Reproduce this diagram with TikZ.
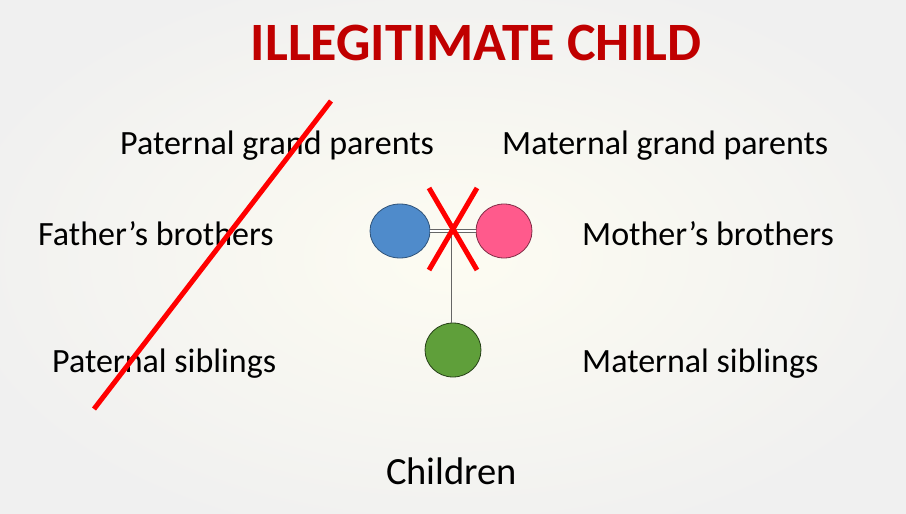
\documentclass[tikz,border=0pt]{standalone}
\usepackage{fontspec}
\setmainfont{Carlito}
\usetikzlibrary{shapes.geometric}
\definecolor{titlered}{HTML}{C00000}
\definecolor{bluep}{HTML}{4F8BCB}
\definecolor{pinkp}{HTML}{FF5A8C}
\definecolor{greenp}{HTML}{5F9F3A}
\definecolor{bgin}{HTML}{FDFCF2}
\definecolor{bgout}{HTML}{F0F0F0}
\tikzset{
  lbl/.style={anchor=base west, inner sep=0pt, font=\fontsize{34}{40}\selectfont, text=black},
  person/.style={ellipse, draw, line width=0.8pt, inner sep=0pt},
  strike/.style={draw=red, line width=5pt},
  link/.style={draw=black!60, line width=0.9pt}
}
\begin{document}
\begin{tikzpicture}[x=1pt,y=-1pt]
\useasboundingbox (0,0) rectangle (906,514);
\shade[inner color=bgin, outer color=bgout] (-60,-40) rectangle (966,554);
\node[anchor=base, inner sep=0pt, font=\bfseries\fontsize{54}{62}\selectfont, text=titlered] (title) at (476,60) {ILLEGITIMATE CHILD};
\node[lbl] (pgp) at (120,154) {Paternal grand parents};
\node[lbl] (mgp) at (502,154) {Maternal grand parents};
\node[lbl] (fb) at (38,245) {Father’s brothers};
\node[lbl] (mb) at (582,245) {Mother’s brothers};
\node[lbl] (ps) at (52,372) {Paternal siblings};
\node[lbl] (ms) at (582,372) {Maternal siblings};
\node[lbl, font=\fontsize{38.5}{44}\selectfont] (ch) at (386,484) {Children};
\node[person, fill=bluep, draw=bluep!60!black, minimum width=60pt, minimum height=54pt] (father) at (400,231) {};
\node[person, fill=pinkp, draw=pinkp!50!black, minimum width=56pt, minimum height=54pt] (mother) at (504,231) {};
\node[person, fill=greenp, draw=greenp!40!black, minimum width=56pt, minimum height=54pt] (child) at (453,350) {};
\draw[link, double=white, double distance=2.6pt, line width=0.8pt] (father.east) -- (mother.west);
\coordinate (mid) at (451,231);
\draw[link] (mid) -- (child.north -| mid);
\coordinate (x1) at (429,188);
\coordinate (x2) at (477,270);
\coordinate (x3) at (477,188);
\coordinate (x4) at (429,270);
\draw[strike] (x1) -- (x2);
\draw[strike] (x3) -- (x4);
\coordinate (s1) at (331,101);
\coordinate (s2) at (94,409);
\draw[strike] (s1) -- (s2);
\end{tikzpicture}
\end{document}
